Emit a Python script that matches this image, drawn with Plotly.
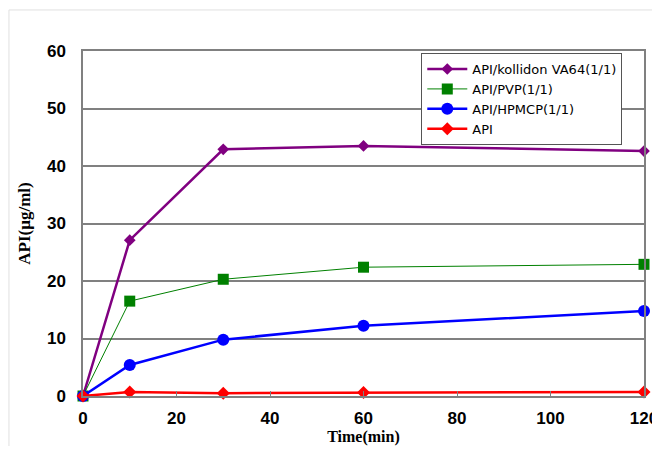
import plotly.graph_objects as go

time_min = [0, 10, 30, 60, 120]
kollidon = [0, 27.1, 42.9, 43.5, 42.6]
pvp = [0, 16.5, 20.3, 22.4, 22.9]
hpmcp = [0, 5.4, 9.8, 12.2, 14.8]
api = [0, 0.7, 0.5, 0.6, 0.7]

series = [
    ("API/kollidon VA64(1/1)", kollidon, "#800080", "diamond", 9, 2.5),
    ("API/PVP(1/1)", pvp, "#008000", "square", 11, 1),
    ("API/HPMCP(1/1)", hpmcp, "#0000FF", "circle", 12, 2.5),
    ("API", api, "#FF0000", "diamond", 10, 2.5),
]

fig = go.Figure()
for name, vals, color, sym, size, lw in series:
    fig.add_trace(go.Scatter(
        x=time_min, y=vals, name=name, mode="lines+markers",
        line=dict(color=color, width=lw),
        marker=dict(symbol=sym, size=size, color=color),
        cliponaxis=False,
    ))

fig.update_layout(
    width=652, height=438,
    margin=dict(l=75, r=16, t=43, b=50),
    paper_bgcolor="white", plot_bgcolor="white",
    font=dict(family="Liberation Sans, Arial, sans-serif", color="black"),
    showlegend=True,
    legend=dict(
        x=0.603, y=0.994, xanchor="left", yanchor="top",
        bgcolor="white", bordercolor="#555555", borderwidth=1,
        font=dict(size=13, family="DejaVu Sans, sans-serif"),
        tracegroupgap=0, itemwidth=40,
    ),
    xaxis=dict(
        range=[0, 120], tickvals=[0, 20, 40, 60, 80, 100, 120],
        showgrid=False, zeroline=False, automargin=False,
        ticklabeloverflow="allow", ticklabelstandoff=6,
        showline=True, linecolor="#808080", linewidth=1.5, mirror=True,
        ticks="inside", ticklen=5, tickcolor="#808080",
        tickfont=dict(size=17, family="Liberation Sans, Arial, sans-serif", weight="bold"),
        title=dict(text="Time(min)", font=dict(size=16, family="Liberation Serif, Times New Roman, serif", weight="bold"), standoff=15),
    ),
    yaxis=dict(
        range=[0, 60], tickvals=[0, 10, 20, 30, 40, 50, 60],
        showgrid=True, gridcolor="#808080", gridwidth=1.5,
        zeroline=False, automargin=False,
        ticklabeloverflow="allow", ticklabelstandoff=12,
        showline=True, linecolor="#808080", linewidth=1.5, mirror=True,
        ticks="outside", ticklen=0,
        tickfont=dict(size=17, family="Liberation Sans, Arial, sans-serif", weight="bold"),
        title=dict(text="API(μg/ml)", font=dict(size=17, family="Liberation Serif, Times New Roman, serif", weight="bold"), standoff=12),
    ),
    shapes=[
        dict(type="line", xref="paper", yref="paper", x0=-0.132, x1=1.2, y0=1.119, y1=1.119,
             line=dict(color="#e0e0e0", width=1)),
        dict(type="line", xref="paper", yref="paper", x0=-0.132, x1=-0.132, y0=1.119, y1=-0.2,
             line=dict(color="#e0e0e0", width=1)),
    ],
)

fig.write_html("out.html")
